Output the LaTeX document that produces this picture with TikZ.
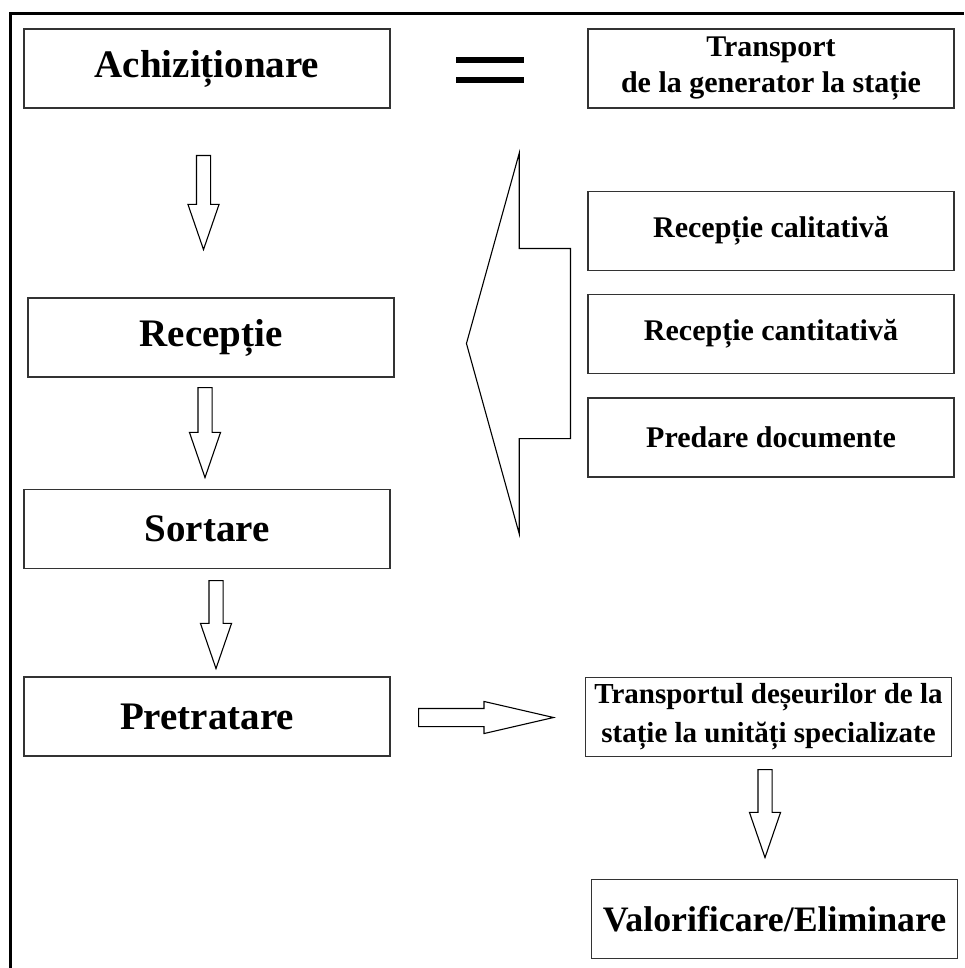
\documentclass[tikz,border=0pt]{standalone}
\usepackage{fontspec}
\setmainfont{Liberation Serif}
\usetikzlibrary{shapes.arrows}

\begin{document}
\begin{tikzpicture}[x=0.5pt,y=-0.5pt,
                    thin]
    \tikzstyle{box}=[rectangle,
                    draw=black!80,
                    line width=0.7pt,
                    minimum width=183pt,
                    minimum height=39.5pt,
                    inner sep=0pt,
                    align=center]
    \tikzstyle{big}=[font=\fontsize{19.5}{23}\selectfont\bfseries]
    \tikzstyle{small}=[font=\fontsize{15}{18}\selectfont\bfseries]
    \tikzstyle{pil}=[single arrow,
                    draw=black,
                    line width=0.55pt,
                    inner xsep=0pt,
                    inner ysep=3.25pt,
                    single arrow head extend=4.25pt,
                    single arrow tip angle=38,
                    anchor=tail]

    \useasboundingbox (0,0) rectangle (964,968);
    \draw[line width=1.5pt] (10.5,968) -- (10.5,13.5) -- (964,13.5);

    % left column
    \node[box,big] (achiz) at (207,68.5) {Achiziționare};
    \node[box,big] (recep) at (211,337.5) {Recepție};
    \node[box,big] (sort) at (207,529) {Sortare};
    \node[box,big] (pretr) at (207,716.5) {Pretratare};

    % right column
    \node[box,small] (transp) at (771,68.5) {Transport\\de la generator la stație};
    \node[box,small] (calit) at (771,231) {Recepție calitativă};
    \node[box,small] (cantit) at (771,334) {Recepție cantitativă};
    \node[box,small] (predare) at (771,437.5) {Predare documente};
    \node[box,font=\fontsize{14.5}{19.5}\selectfont\bfseries] (transdes) at (768.5,717)
        {Transportul deșeurilor de la\\stație la unități specializate};
    \node[box,font=\fontsize{17.9}{21}\selectfont\bfseries] (valor) at (774.5,919) {Valorificare/Eliminare};

    % equals sign
    \draw[line width=3pt] (456,60) -- (524,60) (456,80.5) -- (524,80.5);

    % block arrows
    \node[pil, minimum height=47pt, rotate=-90] (arr1) at (203.5,155) {};
    \node[pil, minimum height=45pt, rotate=-90] (arr2) at (205,387) {};
    \node[pil, minimum height=44pt, rotate=-90] (arr3) at (216,580) {};
    \node[pil, minimum height=44pt, rotate=-90] (arr4) at (765,769) {};
    \node[pil, minimum height=67.5pt, inner ysep=4.25pt,
          single arrow head extend=3.5pt, single arrow tip angle=26] (arr5) at (418,717.5) {};
    \node[pil, minimum height=52pt, inner ysep=47.25pt,
          single arrow head extend=47.75pt, single arrow tip angle=149, rotate=180] (arr6) at (571,343.5) {};
\end{tikzpicture}
\end{document}
